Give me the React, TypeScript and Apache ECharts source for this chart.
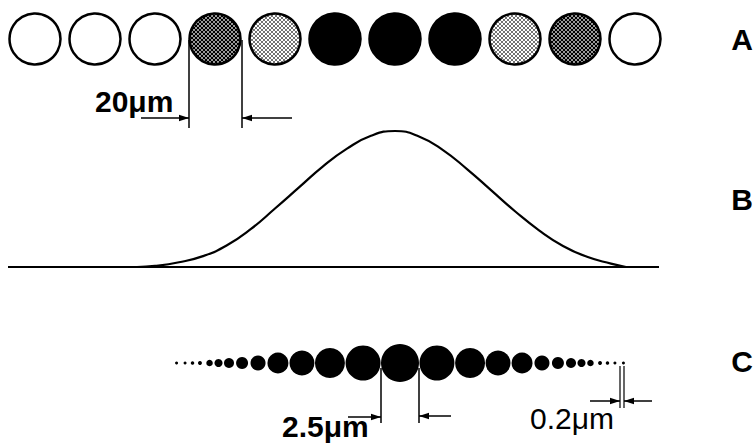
import React, { useEffect, useRef } from "react";
import * as echarts from "echarts";

// Row A: 11 cells, fill kind per cell
const ROW_A_CELLS = [0, 1, 2, 3, 4, 5, 6, 7, 8, 9, 10];
const ROW_A_FILLS = ["white", "white", "white", "dark", "light", "black", "black", "black", "light", "dark", "white"];

// Row B: intensity profile (x in cell units, y relative intensity)
const PROFILE_X = [1.7, 2.0, 2.4, 2.8, 3.2, 3.6, 4.0, 4.4, 4.8, 5.2, 5.6, 6.0, 6.4, 6.8, 7.2, 7.6, 8.0, 8.4, 8.8, 9.2, 9.6, 9.85];
const PROFILE_Y = [0, 0.008, 0.035, 0.08, 0.16, 0.28, 0.43, 0.585, 0.74, 0.87, 0.965, 1.0, 0.96, 0.86, 0.72, 0.565, 0.41, 0.27, 0.155, 0.075, 0.025, 0];
const BASELINE_X = [-0.45, 10.4];

// Row C: dot offsets from centre and diameters, in µm (one side, mirrored)
const C_OFFSETS_UM = [0, 2.43, 4.61, 6.45, 8.03, 9.34, 10.39, 11.25, 11.94, 12.53, 13.16, 13.65, 14.14, 14.7];
const C_DIAMS_UM = [2.5, 2.3, 1.97, 1.64, 1.38, 0.99, 0.79, 0.66, 0.53, 0.43, 0.26, 0.23, 0.2, 0.2];

const LABELS = ["A", "B", "C"];
const DIM_TEXTS = ["20\u03bcm", "2.5\u03bcm", "0.2\u03bcm"];

const A_SYMBOL = 51;
const C_GRID_WIDTH = 456;
const C_RANGE = 30;
const PX_PER_UM = C_GRID_WIDTH / C_RANGE;

const FONT = '"Liberation Sans", Arial, Helvetica, sans-serif';

// 16x16 tile, shown as a 4x4 px tile
function makePattern(kind: string): string {
  const c = document.createElement("canvas");
  c.width = 16;
  c.height = 16;
  const g = c.getContext("2d");
  if (!g) return "";
  const dot = (x: number, y: number, r: number) => {
    g.beginPath();
    g.arc(x, y, r, 0, Math.PI * 2);
    g.fill();
  };
  if (kind === "light") {
    g.fillStyle = "#fff";
    g.fillRect(0, 0, 16, 16);
    g.fillStyle = "#000";
    dot(4, 4, 3.3);
    dot(12, 12, 3.3);
  } else {
    g.fillStyle = "#000";
    g.fillRect(0, 0, 16, 16);
    g.fillStyle = "#fff";
    dot(4, 4, 3.4);
    dot(12, 12, 3.4);
  }
  return c.toDataURL();
}

const ln = (x1: number, y1: number, x2: number, y2: number, w = 1.5) => ({
  type: "line",
  silent: true,
  shape: { x1, y1, x2, y2 },
  style: { stroke: "#000", lineWidth: w },
});

const head = (tx: number, ty: number, dir: number) => ({
  type: "polygon",
  silent: true,
  shape: {
    points:
      dir > 0
        ? [[tx, ty], [tx - 10, ty - 3.2], [tx - 10, ty + 3.2]]
        : [[tx, ty], [tx + 10, ty - 3.2], [tx + 10, ty + 3.2]],
  },
  style: { fill: "#000" },
});

const txt = (text: string, x: number, y: number, size: number, weight: string, align = "left") => ({
  type: "text",
  silent: true,
  x,
  y,
  style: {
    text,
    fill: "#000",
    fontSize: size,
    fontWeight: weight,
    fontFamily: FONT,
    align,
    verticalAlign: "middle",
    textAlign: align,
    textVerticalAlign: "middle",
  },
});

export default function App() {
  const ref = useRef<HTMLDivElement>(null);

  useEffect(() => {
    if (!ref.current) return;
    const chart = echarts.init(ref.current, undefined, { renderer: "svg" });

    // symbol paths are unit shapes scaled by symbolSize/2, so shrink the pattern back
    const s = (4 / 16) * (2 / A_SYMBOL);
    const patterns: Record<string, any> = {
      light: { image: makePattern("light"), repeat: "repeat", imageWidth: 16, imageHeight: 16, scaleX: s, scaleY: s },
      dark: { image: makePattern("dark"), repeat: "repeat", imageWidth: 16, imageHeight: 16, scaleX: s, scaleY: s },
    };
    const fillColor = (kind: string) =>
      kind === "black" ? "#000" : kind === "white" ? "#fff" : patterns[kind];

    const rowA = ROW_A_CELLS.map((c, i) => ({
      value: [c, 0],
      itemStyle: { color: fillColor(ROW_A_FILLS[i]), borderColor: "#000", borderWidth: 2.5, opacity: 1 },
    }));

    const profile = PROFILE_X.map((x, i) => [x, PROFILE_Y[i]]);
    const baseline = BASELINE_X.map((x) => [x, 0]);

    const rowC: number[][] = [];
    for (let i = C_OFFSETS_UM.length - 1; i > 0; i--) rowC.push([-C_OFFSETS_UM[i], 0, C_DIAMS_UM[i]]);
    for (let i = 0; i < C_OFFSETS_UM.length; i++) rowC.push([C_OFFSETS_UM[i], 0, C_DIAMS_UM[i]]);

    const hidden = { show: false };

    chart.setOption({
      animation: false,
      backgroundColor: "#fff",
      grid: [
        { left: 5, top: 0, width: 660, height: 78 },
        { left: 5, top: 131, width: 660, height: 136 },
        { left: 172, top: 343, width: C_GRID_WIDTH, height: 40 },
      ],
      xAxis: [
        { gridIndex: 0, type: "value", min: -0.5, max: 10.5, ...hidden },
        { gridIndex: 1, type: "value", min: -0.5, max: 10.5, ...hidden },
        { gridIndex: 2, type: "value", min: -C_RANGE / 2, max: C_RANGE / 2, ...hidden },
      ],
      yAxis: [
        { gridIndex: 0, type: "value", min: -1, max: 1, ...hidden },
        { gridIndex: 1, type: "value", min: 0, max: 1, ...hidden },
        { gridIndex: 2, type: "value", min: -1, max: 1, ...hidden },
      ],
      series: [
        {
          type: "scatter",
          xAxisIndex: 0,
          yAxisIndex: 0,
          symbol: "circle",
          symbolSize: A_SYMBOL,
          data: rowA,
          silent: true,
        },
        {
          type: "line",
          xAxisIndex: 1,
          yAxisIndex: 1,
          data: baseline,
          symbol: "none",
          clip: false,
          lineStyle: { color: "#000", width: 2 },
          silent: true,
        },
        {
          type: "line",
          xAxisIndex: 1,
          yAxisIndex: 1,
          data: profile,
          smooth: 0.5,
          symbol: "none",
          clip: false,
          lineStyle: { color: "#000", width: 2.2 },
          silent: true,
        },
        {
          type: "scatter",
          xAxisIndex: 2,
          yAxisIndex: 2,
          symbol: "circle",
          symbolSize: (v: number[]) => v[2] * PX_PER_UM,
          itemStyle: { color: "#000", opacity: 1 },
          data: rowC,
          silent: true,
        },
      ],
      graphic: [
        // Row A dimension
        ln(189, 40, 189, 128),
        ln(242, 40, 242, 128),
        ln(141, 118, 189, 118),
        head(189, 118, 1),
        ln(292, 118, 242, 118),
        head(242, 118, -1),
        txt(DIM_TEXTS[0], 95, 101, 30, "bold"),
        // Row C centre dimension
        ln(381, 368, 381, 423),
        ln(419, 368, 419, 423),
        ln(348, 417, 381, 417),
        head(381, 417, 1),
        ln(451, 416, 419, 416),
        head(419, 416, -1),
        txt(DIM_TEXTS[1], 282, 426, 30, "bold"),
        // Row C end dimension
        ln(620, 366, 620, 408, 1.2),
        ln(624, 366, 624, 408, 1.2),
        ln(590, 401, 620, 401),
        head(620, 401, 1),
        ln(652, 401, 624, 401),
        head(624, 401, -1),
        txt(DIM_TEXTS[2], 530, 418, 30, "normal"),
        // Row labels
        txt(LABELS[0], 742, 39, 30, "bold", "center"),
        txt(LABELS[1], 742, 199, 30, "bold", "center"),
        txt(LABELS[2], 742, 361, 30, "bold", "center"),
      ],
    });

    return () => chart.dispose();
  }, []);

  return (
    <div
      ref={ref}
      style={{ position: "fixed", left: 0, top: 0, width: 756, height: 443, background: "#fff" }}
    />
  );
}
